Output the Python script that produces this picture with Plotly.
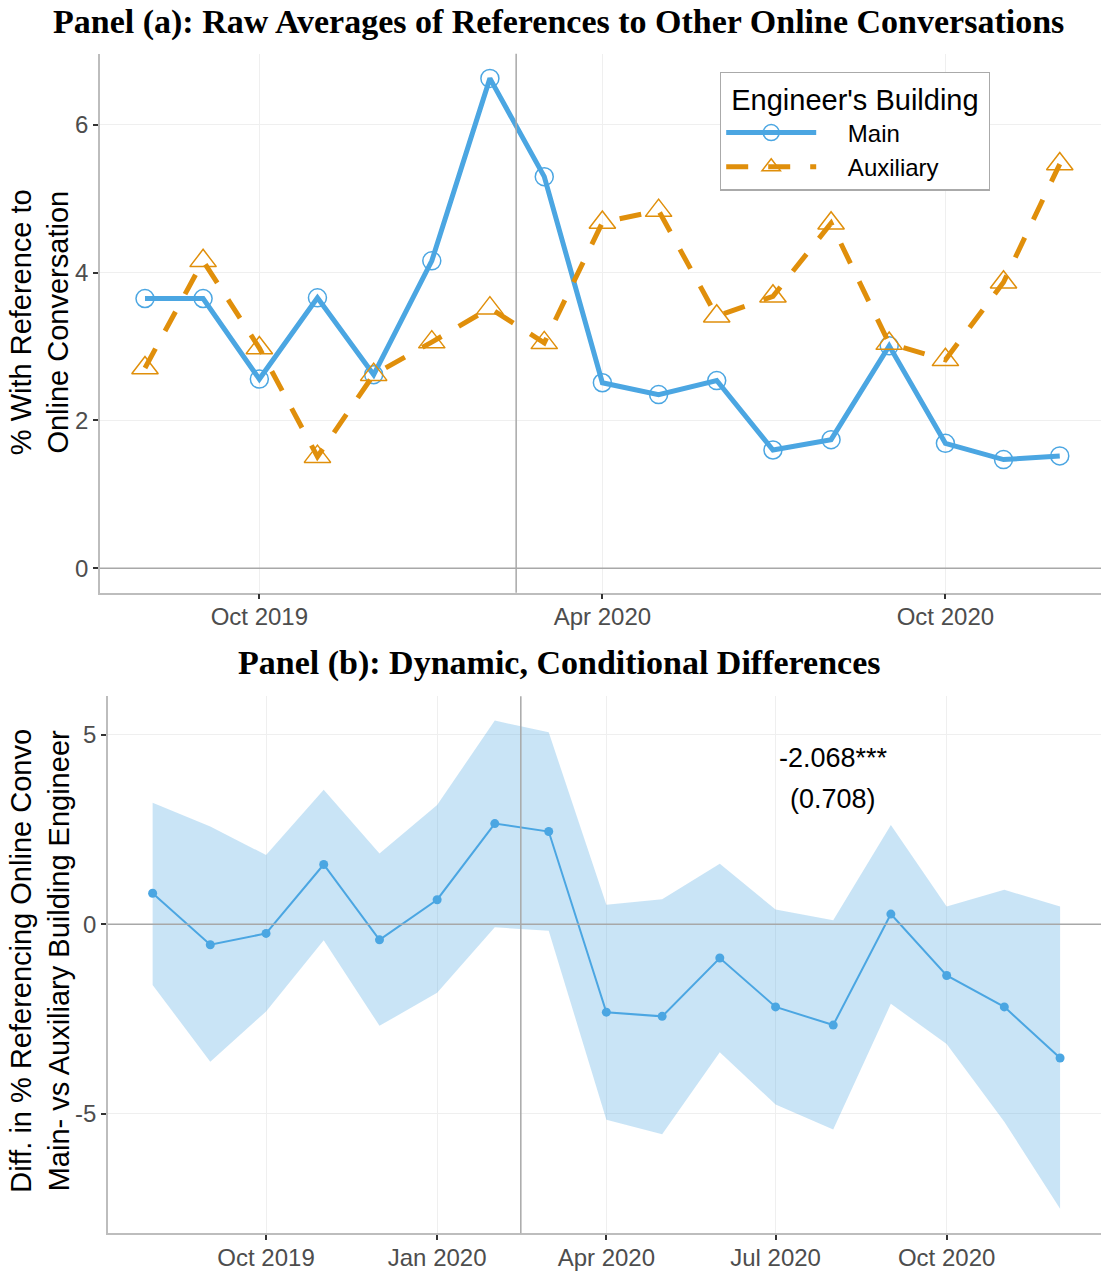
import plotly.graph_objects as go

# ---------------- data ----------------
months = ["2019-08-01", "2019-09-01", "2019-10-01", "2019-11-01", "2019-12-01",
          "2020-01-01", "2020-02-01", "2020-03-01", "2020-04-01", "2020-05-01",
          "2020-06-01", "2020-07-01", "2020-08-01", "2020-09-01", "2020-10-01",
          "2020-11-01", "2020-12-01"]

main_pct = [3.65, 3.65, 2.56, 3.66, 2.62, 4.16, 6.63, 5.30, 2.51, 2.35,
            2.54, 1.60, 1.74, 3.01, 1.69, 1.47, 1.52]
aux_pct = [2.71, 4.16, 2.98, 1.51, 2.62, 3.06, 3.52, 3.05, 4.68, 4.84,
           3.41, 3.68, 4.67, 3.04, 2.82, 3.87, 5.47]

diff_est = [0.82, -0.54, -0.24, 1.58, -0.41, 0.65, 2.66, 2.45, -2.32, -2.43,
            -0.89, -2.18, -2.66, 0.27, -1.35, -2.18, -3.53]
diff_hi = [3.21, 2.58, 1.83, 3.55, 1.87, 3.15, 5.38, 5.07, 0.52, 0.66,
           1.60, 0.39, 0.11, 2.62, 0.47, 0.91, 0.47]
diff_lo = [-1.60, -3.63, -2.30, -0.42, -2.68, -1.81, -0.08, -0.17, -5.16, -5.54,
           -3.38, -4.76, -5.42, -2.10, -3.16, -5.21, -7.51]

ticks_a = ["2019-10-01", "2020-04-01", "2020-10-01"]
ticklabels_a = ["Oct 2019", "Apr 2020", "Oct 2020"]
ticks_b = ["2019-10-01", "2020-01-01", "2020-04-01", "2020-07-01", "2020-10-01"]
ticklabels_b = ["Oct 2019", "Jan 2020", "Apr 2020", "Jul 2020", "Oct 2020"]
yticks_a = [0, 2, 4, 6]
yticks_b = [-5, 0, 5]

event_date = "2020-02-15"
coef_text = "-2.068***"
se_text = "(0.708)"

# ---------------- style ----------------
W, H = 1101, 1271
BLUE = "#4BA6E2"
ORANGE = "#E08F0B"
RIBBON = "rgba(75,166,226,0.30)"
GRID = "#EFEFEF"
AXLINE = "#BDBDBD"
REFLINE = "#A8A8A8"
TICKFONT = dict(family="Liberation Sans, Arial, sans-serif", size=24, color="#4D4D4D")
SANS = "Liberation Sans, Arial, sans-serif"
SERIF = "Liberation Serif, Times New Roman, serif"
PAD = "\u00a0\u00a0\u00a0\u00a0"


def py(px):
    return (H - px) / H


fig = go.Figure()

# Panel (a)
fig.add_trace(go.Scatter(
    x=months, y=main_pct, name=PAD + "Main", mode="lines+markers",
    line=dict(color=BLUE, width=5),
    marker=dict(symbol="circle-open", size=18, color=BLUE, line=dict(width=1.5, color=BLUE)),
    xaxis="x", yaxis="y"))
fig.add_trace(go.Scatter(
    x=months, y=aux_pct, name=PAD + "Auxiliary", mode="lines+markers",
    line=dict(color=ORANGE, width=5, dash="22px,20px"),
    marker=dict(symbol="triangle-up-open", size=23, color=ORANGE, line=dict(width=1.5, color=ORANGE)),
    xaxis="x", yaxis="y"))

# Panel (b)
fig.add_trace(go.Scatter(
    x=months, y=diff_hi, mode="lines", line=dict(width=0, color=RIBBON),
    showlegend=False, hoverinfo="skip", xaxis="x2", yaxis="y2"))
fig.add_trace(go.Scatter(
    x=months, y=diff_lo, mode="lines", line=dict(width=0, color=RIBBON),
    fill="tonexty", fillcolor=RIBBON,
    showlegend=False, hoverinfo="skip", xaxis="x2", yaxis="y2"))
fig.add_trace(go.Scatter(
    x=months, y=diff_est, mode="lines+markers",
    line=dict(color=BLUE, width=2),
    marker=dict(symbol="circle", size=9, color=BLUE),
    showlegend=False, xaxis="x2", yaxis="y2"))

xcommon = dict(type="date", range=["2019-07-08", "2020-12-23"], showgrid=True, gridcolor=GRID,
               gridwidth=1.2, showline=True, linecolor=AXLINE, linewidth=1.5, ticks="outside",
               ticklen=5, tickwidth=1.5, tickcolor="#333333", tickfont=TICKFONT, zeroline=False,
               ticklabelstandoff=-3)
ycommon = dict(showgrid=True, gridcolor=GRID, gridwidth=1.2, showline=True, linecolor=AXLINE,
               linewidth=1.5, ticks="outside", ticklen=5, tickwidth=1.5, tickcolor="#333333",
               tickfont=TICKFONT, zeroline=False)

fig.update_layout(
    width=W, height=H,
    margin=dict(l=0, r=0, t=0, b=0),
    paper_bgcolor="white", plot_bgcolor="white",
    xaxis=dict(xcommon, domain=[100 / W, 1], anchor="y", tickvals=ticks_a, ticktext=ticklabels_a),
    yaxis=dict(ycommon, domain=[py(596), py(54)], anchor="x", range=[-0.332, 6.964],
               tickvals=yticks_a, ticktext=[str(v) for v in yticks_a]),
    xaxis2=dict(xcommon, domain=[108 / W, 1], anchor="y2", tickvals=ticks_b, ticktext=ticklabels_b),
    yaxis2=dict(ycommon, domain=[py(1240), py(700)], anchor="x2", range=[-8.155, 6.025],
                tickvals=yticks_b, ticktext=[str(v) for v in yticks_b]),
    legend=dict(
        x=720 / W, y=py(72), xanchor="left", yanchor="top",
        bordercolor="#AAAAAA", borderwidth=1.2, bgcolor="white",
        title=dict(text="\u00a0Engineer's Building\u00a0", font=dict(family=SANS, size=29, color="black")),
        font=dict(family=SANS, size=24, color="black"),
        itemwidth=90, tracegroupgap=0, traceorder="normal"),
    showlegend=True,
)

# reference lines
fig.add_shape(type="line", xref="x", yref="y domain", x0=event_date, x1=event_date, y0=0, y1=1,
              line=dict(color=REFLINE, width=1.5))
fig.add_shape(type="line", xref="x domain", yref="y", x0=0, x1=1, y0=0, y1=0,
              line=dict(color=REFLINE, width=1.5))
fig.add_shape(type="line", xref="x2", yref="y2 domain", x0=event_date, x1=event_date, y0=0, y1=1,
              line=dict(color=REFLINE, width=1.5))
fig.add_shape(type="line", xref="x2 domain", yref="y2", x0=0, x1=1, y0=0, y1=0,
              line=dict(color=REFLINE, width=1.5))

annos = [
    dict(text="<b>Panel (a): Raw Averages of References to Other Online Conversations</b>",
         x=559 / W, y=py(22), xref="paper", yref="paper", showarrow=False,
         font=dict(family=SERIF, size=34, color="black"), xanchor="center", yanchor="middle"),
    dict(text="<b>Panel (b): Dynamic, Conditional Differences</b>",
         x=559 / W, y=py(667), xref="paper", yref="paper", showarrow=False,
         font=dict(family=SERIF, size=34, color="black"), xanchor="center", yanchor="middle"),
    dict(text="% With Reference to<br>Online Conversation", textangle=-90,
         x=40 / W, y=py(324), xref="paper", yref="paper", showarrow=False,
         font=dict(family=SANS, size=29, color="black"), xanchor="center", yanchor="middle"),
    dict(text="Diff. in % Referencing Online Convo<br>Main- vs Auxiliary Building Engineer", textangle=-90,
         x=40 / W, y=py(966), xref="paper", yref="paper", showarrow=False,
         font=dict(family=SANS, size=29, color="black"), xanchor="center", yanchor="middle"),
    dict(text=coef_text, x="2020-08-01", y=4.40, xref="x2", yref="y2", showarrow=False,
         font=dict(family=SANS, size=27, color="black"), xanchor="center", yanchor="middle"),
    dict(text=se_text, x="2020-08-01", y=3.32, xref="x2", yref="y2", showarrow=False,
         font=dict(family=SANS, size=27, color="black"), xanchor="center", yanchor="middle"),
]
fig.update_layout(annotations=annos)

fig.write_html("out.html")
